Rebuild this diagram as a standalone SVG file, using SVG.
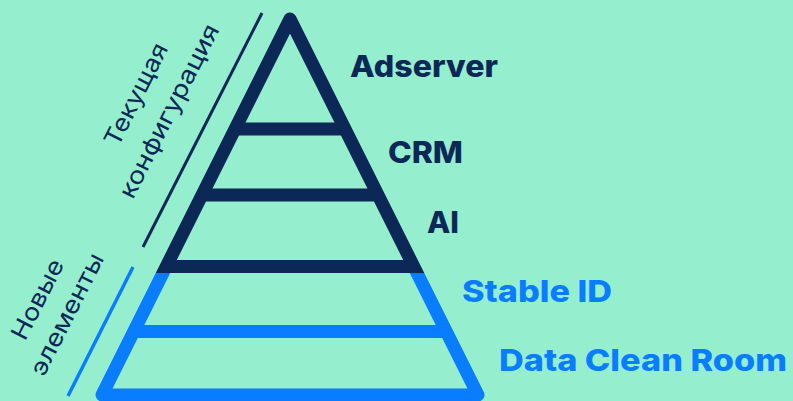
<svg xmlns="http://www.w3.org/2000/svg" width="793" height="401" viewBox="0 0 793 401">
<style>
.dk{stroke:#0c2856;fill:none}
.bl{stroke:#0a7cff;fill:none}
.lbl{font-family:Inter,"Open Sans","Liberation Sans",sans-serif;font-weight:800;font-size:30px}
.side{font-family:Inter,"Open Sans","Liberation Sans",sans-serif;font-weight:400;font-size:24px;fill:#0c2856;text-anchor:middle}
</style>
<defs>
<clipPath id="top"><rect x="0" y="0" width="793" height="273"/></clipPath>
<clipPath id="bot"><rect x="0" y="273" width="793" height="128"/></clipPath>
</defs>
<rect width="793" height="401" fill="#95efcf"/>
<g id="pyramid">
<path class="dk" clip-path="url(#top)" d="M290 19 L478 395 L102 395 Z" stroke-width="13" stroke-linejoin="round"/>
<path class="bl" clip-path="url(#bot)" d="M290 19 L478 395 L102 395 Z" stroke-width="13" stroke-linejoin="round"/>
<line class="dk" x1="235" y1="129" x2="345" y2="129" stroke-width="13"/>
<line class="dk" x1="202" y1="195" x2="378" y2="195" stroke-width="13"/>
<line class="dk" x1="166" y1="266.5" x2="414" y2="266.5" stroke-width="13"/>
<line class="bl" x1="134" y1="331.5" x2="446" y2="331.5" stroke-width="13"/>
</g>
<g id="connectors">
<line class="dk" x1="262" y1="13" x2="143" y2="247" stroke-width="3"/>
<line class="bl" x1="133" y1="267" x2="68" y2="396" stroke-width="3.5"/>
</g>
<g id="current-config">
<g transform="translate(143.3,98) rotate(-63)">
<text class="side" x="0" y="0" textLength="112" lengthAdjust="spacingAndGlyphs">Текущая</text>
<text class="side" x="0" y="37" textLength="192" lengthAdjust="spacingAndGlyphs">конфигурация</text>
</g>
</g>
<g id="new-elements">
<g transform="translate(44.8,303) rotate(-63)">
<text class="side" x="0" y="0" textLength="87" lengthAdjust="spacingAndGlyphs">Новые</text>
<text class="side" x="0" y="33" textLength="134" lengthAdjust="spacingAndGlyphs">элементы</text>
</g>
</g>
<g id="adserver"><text class="lbl" x="350" y="77" fill="#0c2856" textLength="148" lengthAdjust="spacingAndGlyphs">Adserver</text></g>
<g id="crm"><text class="lbl" x="388" y="163" fill="#0c2856" textLength="75" lengthAdjust="spacingAndGlyphs">CRM</text></g>
<g id="ai"><text class="lbl" x="427" y="233" fill="#0c2856" textLength="32" lengthAdjust="spacingAndGlyphs">AI</text></g>
<g id="stable-id"><text class="lbl" x="462" y="302" fill="#0a7cff" textLength="150" lengthAdjust="spacingAndGlyphs">Stable ID</text></g>
<g id="data-clean-room"><text class="lbl" x="499" y="371" fill="#0a7cff" textLength="288" lengthAdjust="spacingAndGlyphs">Data Clean Room</text></g>
</svg>
